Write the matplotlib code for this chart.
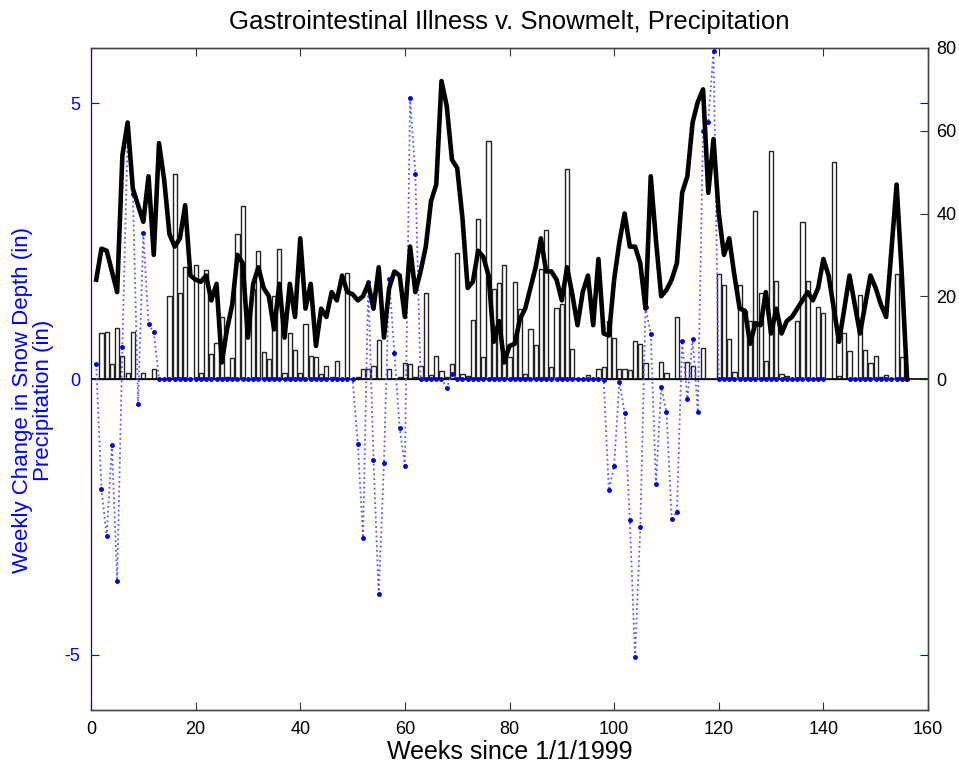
import numpy as np
import matplotlib
matplotlib.use("Agg")
import matplotlib.pyplot as plt

plt.rcParams["font.family"] = ["Liberation Sans", "DejaVu Sans"]
plt.rcParams["axes.unicode_minus"] = False

weeks = np.arange(1, 157)

# weekly GI illness counts (right axis)
illness = [24, 31.5, 31, 26, 21, 54, 62, 46, 42, 38,
           49, 30, 57, 48, 35, 32, 34, 42, 25, 24,
           23.5, 25, 19, 23, 4, 12, 18, 30, 28, 10,
           23, 27, 22, 20, 12, 23, 10, 23, 15, 34,
           17, 23, 8, 17, 15, 21, 19, 25, 21, 20.5,
           19, 20, 23, 17, 27, 10, 22, 26, 25, 15,
           32, 21, 26, 32, 43, 47, 72, 66, 53, 51,
           39, 22, 23.5, 31, 29.5, 25, 9, 14, 4, 8,
           8.5, 14.5, 17, 22, 27, 34, 26, 26, 24, 19,
           27, 20.5, 13, 21, 25, 13, 29, 11, 10.5, 24,
           33, 40, 32, 32, 28, 17, 49, 33.5, 20, 21.5,
           24, 28, 45, 49, 62, 67, 70, 45, 58, 40,
           30, 34, 25, 17, 16.5, 8.5, 13.5, 13, 21, 11,
           17, 11, 14, 15, 17, 19, 21, 19, 22, 29,
           25, 17, 9, 17, 25, 18, 11, 18, 25, 22,
           18, 15, 31, 47, 25, 0]

# weekly precipitation (bars, right axis)
precip = [0, 11.2, 11.4, 3.6, 12.4, 5.6, 1.5, 11.3, 0, 1.5,
          0, 2.3, 0, 0, 20.1, 49.6, 20.8, 27, 0, 27.6,
          1.5, 26.3, 6, 8.6, 15, 0.6, 5, 35, 41.8, 0,
          21.8, 31, 6.5, 4.8, 20.1, 31.3, 1.5, 11.1, 7, 1.5,
          13.3, 5.6, 5.2, 1.3, 3.1, 0.5, 4.3, 0, 25.6, 0,
          0.5, 2.3, 2.5, 3.1, 9.5, 0, 2.3, 0, 0.4, 3.8,
          3.6, 0.6, 3.1, 20.7, 1, 5.6, 1.9, 0.5, 3.6, 30.4,
          1.1, 0.8, 14.2, 38.7, 5.2, 57.5, 21.7, 23.2, 27.6, 5.4,
          23.5, 16.9, 1.3, 12, 8.2, 26.6, 36.1, 2.8, 17.1, 18.1,
          50.7, 7.2, 0, 0, 1, 0, 2.5, 2.9, 14.1, 9.8,
          2.3, 2.3, 2.1, 9.2, 8.4, 3.8, 0, 0, 4.1, 1.5,
          0, 14.9, 0, 4, 3.2, 0, 7.6, 0, 0, 25.4,
          22.8, 9.6, 1.6, 22.8, 16.5, 14, 40.6, 20.8, 4.4, 55,
          23.8, 1.2, 0.8, 0, 14.1, 38, 23.6, 0, 17.3, 16,
          0, 52.4, 0.8, 11.2, 6.8, 0, 20.3, 7, 3.8, 5.6,
          0.5, 1, 0, 25.4, 5.2, 0]

# weekly change in snow depth (left axis), nan = no data
nan = np.nan
snow = ([0.27, -2.0, -2.85, -1.2, -3.66, 0.58, 4.4, 3.36, -0.45, 2.64,
         0.99, 0.85] + [0] * 38 +
        [-1.17, -2.88, 1.75, -1.46, -3.9, -1.53, 1.81, 0.47, -0.88, -1.57,
         5.09, 3.72, 0, 0, 0, 0, 0, -0.16, 0.09] + [0] * 28 +
        [-0.02, -2.02, -1.57, -0.05, -0.61, -2.55, -5.04, -2.69, 1.3, 0.82,
         -1.9, -0.15, -0.6, -2.53, -2.41, 0.69, -0.36, 0.73, -0.6, 4.5,
         4.66, 5.95, 0] + [0] * 20 + [nan] * 4 + [0] * 12)

fig = plt.figure(figsize=(9.59, 7.66), dpi=100)
ax = fig.add_axes([91 / 959, 56 / 766, 837 / 959, 662 / 766])
axp = ax.twinx()
axg = ax.twinx()

# stacking: bars at bottom, snow in the middle, illness line on top
axp.set_zorder(0)
ax.set_zorder(1)
axg.set_zorder(2)
ax.patch.set_visible(False)
axg.patch.set_visible(False)

axp.bar(weeks, precip, width=0.8, color="white", edgecolor="#222222", linewidth=1.0)
axp.axhline(0, color="black", linewidth=1.2)

ax.plot(weeks, snow, linestyle=":", color="#5a5aff", linewidth=1.3,
        marker=".", markersize=5, markerfacecolor="#0000cc", markeredgecolor="#0000cc")

axg.plot(weeks, illness, color="black", linewidth=3.3, solid_joinstyle="round")

ax.set_xlim(0, 160)
ax.set_ylim(-6, 6)
axp.set_ylim(-80, 80)
axg.set_ylim(-80, 80)

ax.set_xticks(np.arange(0, 161, 20))
ax.set_yticks([-5, 0, 5])
axp.set_yticks([0, 20, 40, 60, 80])
axg.set_yticks([])

ax.tick_params(axis="x", direction="in", top=True, length=6, labelsize=13, pad=8,
               color="#333333")
ax.tick_params(axis="y", direction="in", right=True, length=6, labelsize=13,
               colors="blue", pad=8)
axp.tick_params(axis="y", direction="in", length=6, labelsize=13, pad=6,
                color="#333333")

for a in (ax, axp, axg):
    for s in a.spines.values():
        s.set_color("#444444")
        s.set_linewidth(0.9)
ax.spines["left"].set_color("blue")
axg.spines["left"].set_visible(False)
axp.spines["left"].set_visible(False)

fig.text(509.5 / 959, 1 - 22 / 766, "Gastrointestinal Illness v. Snowmelt, Precipitation",
         ha="center", va="center", fontsize=18.5)
fig.text(509.5 / 959, 1 - 759 / 766, "Weeks since 1/1/1999",
         ha="center", va="baseline", fontsize=18)
fig.text(33 / 959, 1 - 400 / 766, "Weekly Change in Snow Depth (in)\nPrecipitation (in)",
         rotation=90, ha="center", va="center", multialignment="center",
         color="blue", fontsize=16, linespacing=1.0)

fig.savefig("out.png", dpi=100)
